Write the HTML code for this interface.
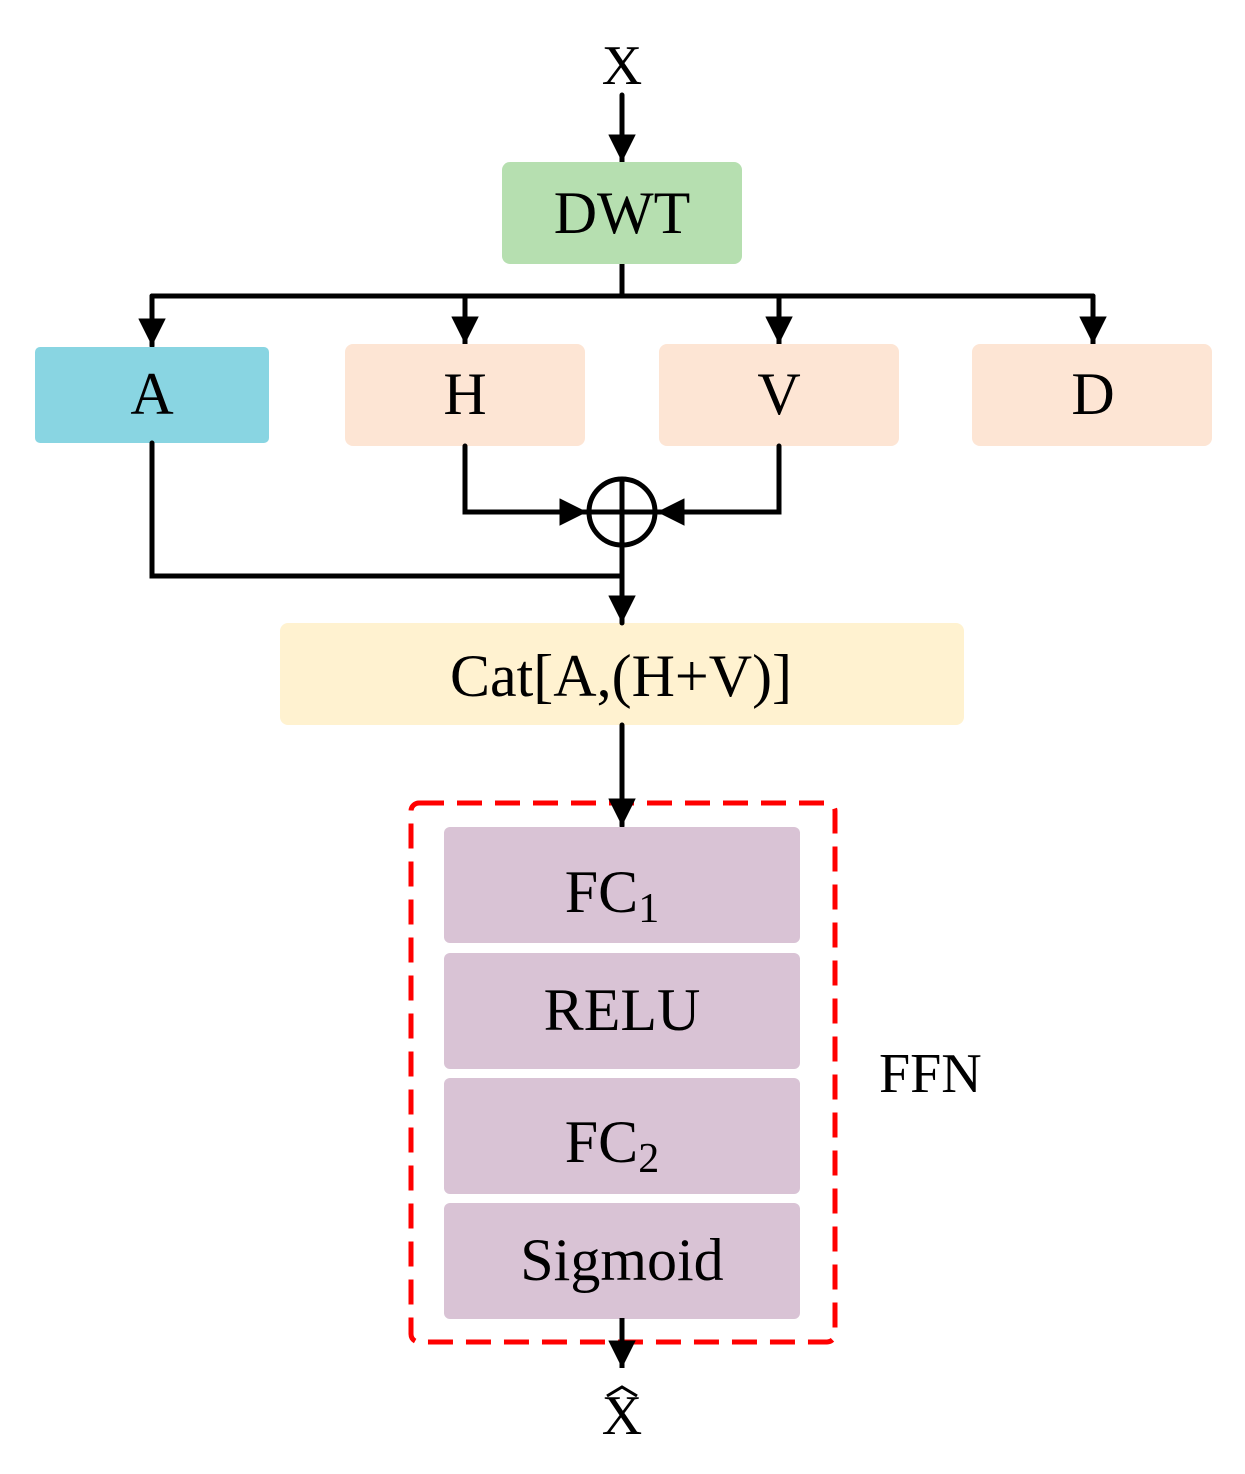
<!DOCTYPE html>
<html><head><meta charset="utf-8"><style>html,body{margin:0;padding:0;background:#fff}svg{display:block}</style></head>
<body>
<svg width="1245" height="1474" viewBox="0 0 1245 1474" xmlns="http://www.w3.org/2000/svg" font-family="Liberation Serif, serif">
<defs>
<marker id="ah" viewBox="0 0 10 10" refX="10" refY="5" markerWidth="5.5" markerHeight="5.5" markerUnits="strokeWidth" orient="auto"><path d="M0,0 L10,5 L0,10 z" fill="#000"/></marker>
</defs>
<g stroke="#000" stroke-width="5" fill="none" stroke-linecap="round">
<line x1="622" y1="95" x2="622" y2="162" marker-end="url(#ah)"/>
<line x1="622" y1="264" x2="622" y2="296"/>
<line x1="152" y1="296" x2="1093" y2="296"/>
<line x1="152" y1="296" x2="152" y2="346" marker-end="url(#ah)"/>
<line x1="465" y1="296" x2="465" y2="344" marker-end="url(#ah)"/>
<line x1="779" y1="296" x2="779" y2="344" marker-end="url(#ah)"/>
<line x1="1093" y1="296" x2="1093" y2="344" marker-end="url(#ah)"/>
</g>
<rect x="502" y="162" width="240" height="102" rx="8" fill="#b6dfb0"/>
<rect x="35" y="347" width="234" height="96" rx="5" fill="#89d5e2"/>
<rect x="345" y="344" width="240" height="102" rx="8" fill="#fde5d4"/>
<rect x="659" y="344" width="240" height="102" rx="8" fill="#fde5d4"/>
<rect x="972" y="344" width="240" height="102" rx="8" fill="#fde5d4"/>
<rect x="280" y="623" width="684" height="102" rx="8" fill="#fff2d0"/>
<rect x="411" y="803" width="424" height="539" rx="8" fill="none" stroke="#f00" stroke-width="5" stroke-dasharray="25,13"/>
<g stroke="#000" stroke-width="5" fill="none" stroke-linecap="round">
<polyline points="465,446 465,512 587,512" marker-end="url(#ah)"/>
<polyline points="779,446 779,512 657,512" marker-end="url(#ah)"/>
<circle cx="622" cy="512" r="33"/>
<line x1="622" y1="479" x2="622" y2="545"/>
<line x1="589" y1="512" x2="655" y2="512"/>
<line x1="622" y1="545" x2="622" y2="623" marker-end="url(#ah)"/>
<polyline points="152,443 152,576 622,576"/>
<line x1="622" y1="725" x2="622" y2="826" marker-end="url(#ah)"/>
</g>
<g fill="#d9c3d5">
<rect x="444" y="827" width="356" height="116" rx="6"/>
<rect x="444" y="953" width="356" height="116" rx="6"/>
<rect x="444" y="1078" width="356" height="116" rx="6"/>
<rect x="444" y="1203" width="356" height="116" rx="6"/>
</g>
<line x1="622" y1="1318" x2="622" y2="1368" stroke="#000" stroke-width="5" marker-end="url(#ah)"/>
<g font-size="60" text-anchor="middle" fill="#000">
<text x="622" y="84" font-size="56">X</text>
<text x="622" y="233">DWT</text>
<text x="152" y="414">A</text>
<text x="465" y="414">H</text>
<text x="779" y="414">V</text>
<text x="1093" y="414">D</text>
<text x="621" y="696">Cat[A,(H+V)]</text>
<text x="612" y="912">FC<tspan font-size="42" dy="10">1</tspan></text>
<text x="622" y="1030">RELU</text>
<text x="612" y="1162">FC<tspan font-size="42" dy="10">2</tspan></text>
<text x="622" y="1280">Sigmoid</text>
<text x="622" y="1434" font-size="56">X</text>
</g>
<path d="M607,1396 L622,1387 L637,1396" stroke="#000" stroke-width="3" fill="none"/>
<text x="879" y="1092" font-size="56" fill="#000">FFN</text>
</svg>
</body></html>
